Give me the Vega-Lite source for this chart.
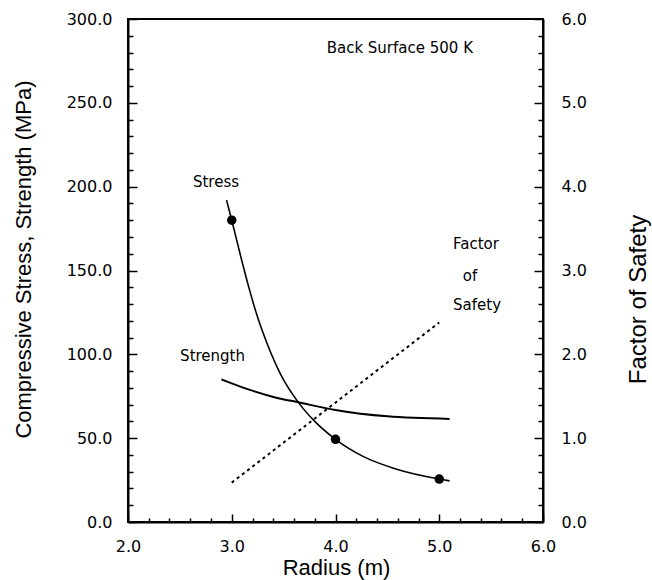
{
  "$schema": "https://vega.github.io/schema/vega-lite/v6.json",
  "autosize": {"type": "none"},
  "padding": {"left": 128, "top": 19, "right": 109, "bottom": 58},
  "width": 415,
  "height": 503,
  "background": "white",
  "config": {
    "view": {"stroke": "black", "strokeWidth": 2},
    "axis": {"grid": false, "domainColor": "black", "domainWidth": 2, "tickColor": "black", "tickWidth": 1.5, "labelColor": "black", "titleColor": "black", "labelFont": "DejaVu Sans", "labelFontSize": 16, "titleFont": "Liberation Sans", "titleFontSize": 22, "titleFontWeight": "normal", "labelOverlap": false, "labelBound": false, "tickCount": 100}
  },
  "datasets": {
    "stress": [
      {"r": 2.95, "v": 192}, {"r": 3.0, "v": 180}, {"r": 3.08, "v": 160}, {"r": 3.16, "v": 141},
      {"r": 3.255, "v": 121}, {"r": 3.35, "v": 105}, {"r": 3.48, "v": 87}, {"r": 3.64, "v": 71.5},
      {"r": 3.8, "v": 60}, {"r": 4.0, "v": 49.3}, {"r": 4.27, "v": 39}, {"r": 4.59, "v": 31.5},
      {"r": 5.0, "v": 25.6}, {"r": 5.1, "v": 24.5}
    ],
    "points": [{"r": 3.0, "v": 180}, {"r": 4.0, "v": 49.3}, {"r": 5.0, "v": 25.6}],
    "strength": [
      {"r": 2.9, "v": 85.1}, {"r": 3.16, "v": 79.1}, {"r": 3.42, "v": 74.3}, {"r": 3.64, "v": 71.4},
      {"r": 4.0, "v": 66.8}, {"r": 4.5, "v": 63}, {"r": 5.1, "v": 61.5}
    ],
    "fos": [{"r": 3.0, "f": 0.47}, {"r": 5.0, "f": 2.38}],
    "labels": [
      {"r": 4.62, "v": 283, "t": "Back Surface 500 K"},
      {"r": 2.848, "v": 203, "t": "Stress"},
      {"r": 2.815, "v": 99, "t": "Strength"},
      {"r": 5.354, "v": 166, "t": "Factor"},
      {"r": 5.296, "v": 147, "t": "of"},
      {"r": 5.364, "v": 129.4, "t": "Safety"}
    ]
  },
  "layer": [
    {
      "layer": [
        {
          "data": {"name": "stress"},
          "mark": {"type": "line", "interpolate": "monotone", "color": "black", "strokeWidth": 1.6},
          "encoding": {
            "x": {"field": "r", "type": "quantitative", "scale": {"domain": [2, 6], "nice": false},
              "axis": {"title": "Radius (m)", "values": [2,2.2,2.4,2.6,2.8,3,3.2,3.4,3.6,3.8,4,4.2,4.4,4.6,4.8,5,5.2,5.4,5.6,5.8,6],
                "labelExpr": "abs(datum.value - round(datum.value)) < 0.001 ? format(datum.value, '.1f') : ''",
                "tickSize": {"condition": {"test": "abs(datum.value - round(datum.value)) < 0.001", "value": -8}, "value": -4},
                "labelPadding": 24, "labelFlush": false,
                "titleX": 208, "titleY": 52, "titleBaseline": "alphabetic", "titleAnchor": "middle"}},
            "y": {"field": "v", "type": "quantitative", "scale": {"domain": [0, 300], "nice": false},
              "axis": {"title": "Compressive Stress, Strength (MPa)", "values": [0,10,20,30,40,50,60,70,80,90,100,110,120,130,140,150,160,170,180,190,200,210,220,230,240,250,260,270,280,290,300],
                "labelExpr": "datum.value % 50 === 0 ? format(datum.value, '.1f') : ''",
                "tickSize": {"condition": {"test": "datum.value % 50 === 0", "value": -9}, "value": -5},
                "labelPadding": 25, "labelFlush": false,
                "titleX": -105, "titleY": 240, "titleAngle": 270, "titleBaseline": "middle", "titleAlign": "center"}}
          }
        },
        {
          "data": {"name": "strength"},
          "mark": {"type": "line", "interpolate": "monotone", "color": "black", "strokeWidth": 2},
          "encoding": {
            "x": {"field": "r", "type": "quantitative"},
            "y": {"field": "v", "type": "quantitative"}
          }
        },
        {
          "data": {"name": "points"},
          "mark": {"type": "point", "filled": true, "color": "black", "size": 90, "opacity": 1},
          "encoding": {
            "x": {"field": "r", "type": "quantitative"},
            "y": {"field": "v", "type": "quantitative"}
          }
        },
        {
          "data": {"name": "labels"},
          "mark": {"type": "text", "font": "DejaVu Sans", "fontSize": 15, "color": "black"},
          "encoding": {
            "x": {"field": "r", "type": "quantitative"},
            "y": {"field": "v", "type": "quantitative"},
            "text": {"field": "t"}
          }
        }
      ]
    },
    {
      "data": {"name": "fos"},
      "mark": {"type": "line", "color": "black", "strokeWidth": 2, "strokeDash": [3, 3.5]},
      "encoding": {
        "x": {"field": "r", "type": "quantitative"},
        "y": {"field": "f", "type": "quantitative", "scale": {"domain": [0, 6], "nice": false},
          "axis": {"orient": "right", "title": "Factor of Safety", "titleFontSize": 24, "values": [0,0.2,0.4,0.6,0.8,1,1.2,1.4,1.6,1.8,2,2.2,2.4,2.6,2.8,3,3.2,3.4,3.6,3.8,4,4.2,4.4,4.6,4.8,5,5.2,5.4,5.6,5.8,6],
            "labelExpr": "abs(datum.value - round(datum.value)) < 0.001 ? format(datum.value, '.1f') : ''",
            "tickSize": {"condition": {"test": "abs(datum.value - round(datum.value)) < 0.001", "value": -9}, "value": -5},
            "labelPadding": 27, "labelFlush": false,
            "titleX": 95, "titleY": 280, "titleAngle": 270, "titleBaseline": "middle", "titleAlign": "center"}}
      }
    }
  ],
  "resolve": {"scale": {"y": "independent"}}
}
